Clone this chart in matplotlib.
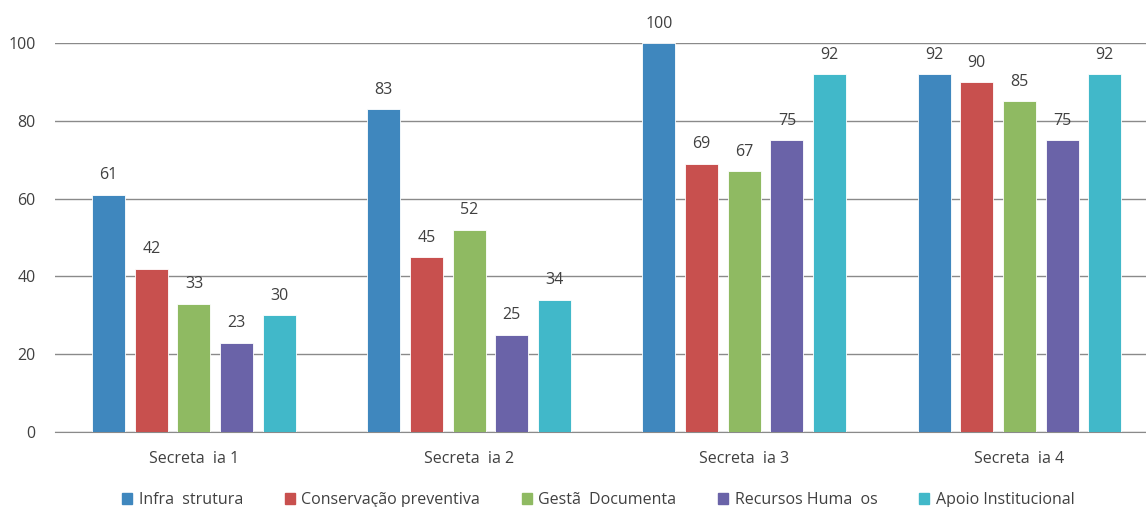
import numpy as np
import matplotlib.pyplot as plt
from matplotlib.patches import Patch

plt.rcParams['font.family'] = ['Open Sans', 'DejaVu Sans']

categorias = ['Secreta  ia 1', 'Secreta  ia 2', 'Secreta  ia 3', 'Secreta  ia 4']
series = ['Infra  strutura', 'Conservação preventiva', 'Gestã  Documenta',
          'Recursos Huma  os', 'Apoio Institucional']
infraestrutura = [61, 83, 100, 92]
conservacao = [42, 45, 69, 90]
gestao = [33, 52, 67, 85]
recursos = [23, 25, 75, 75]
apoio = [30, 34, 92, 92]
valores = [infraestrutura, conservacao, gestao, recursos, apoio]
cores = ['#3F87BE', '#C8504E', '#8FBA62', '#6A63A8', '#41B8C9']
yticks = [0, 20, 40, 60, 80, 100]

fig = plt.figure(figsize=(11.46, 5.07), dpi=100)
ax = fig.add_axes([0.048, 0.148, 0.952, 0.767])

x = np.arange(len(categorias))
larg = 0.12
passo = 0.155
texto = '#404040'
for i, (vals, cor) in enumerate(zip(valores, cores)):
    pos = x + (i - 2) * passo
    barras = ax.bar(pos, vals, width=larg, color=cor, edgecolor='white',
                    linewidth=0.6, zorder=3)
    for b, v in zip(barras, vals):
        ax.annotate(str(v), (b.get_x() + b.get_width() / 2, v),
                    xytext=(0, 11), textcoords='offset points', ha='center',
                    va='baseline', fontsize=11.5, color=texto,
                    annotation_clip=False)

ax.set_xlim(-0.505, 3.46)
ax.set_ylim(0, 100)
ax.set_yticks(yticks)
ax.grid(axis='y', color='#8a8a8a', linewidth=1.0, zorder=0)
ax.set_axisbelow(True)
for s in ['left', 'right', 'top']:
    ax.spines[s].set_visible(False)
ax.spines['bottom'].set_color('#8a8a8a')
ax.tick_params(axis='y', length=0, pad=14, labelsize=11.5, labelcolor=texto)
ax.tick_params(axis='x', length=0, pad=14, labelsize=11.5, labelcolor=texto)
ax.set_xticks(x)
ax.set_xticklabels(categorias)

handles = [Patch(color=c, label=s) for c, s in zip(cores, series)]
fig.legend(handles=handles, loc='center', bbox_to_anchor=(0.522, 0.014),
           ncol=5, frameon=False, fontsize=11.5, handlelength=0.65,
           handleheight=0.65, handletextpad=0.4, columnspacing=2.6,
           labelcolor=texto)

fig.savefig('out.png', dpi=100)
